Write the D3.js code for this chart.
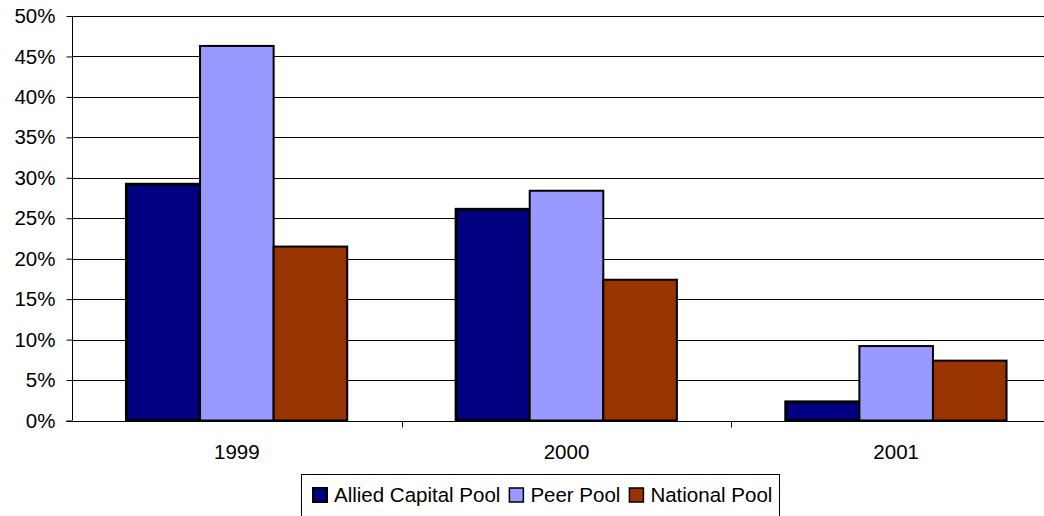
<!DOCTYPE html>
<html>
<head>
<meta charset="utf-8">
<script src="https://cdn.jsdelivr.net/npm/d3@7"></script>
<style>
  body { margin: 0; background: #fff; }
  text { font-family: "Liberation Sans", Arial, sans-serif; }
</style>
</head>
<body>
<div id="chart"></div>
<script>
// data
let years = ["1999", "2000", "2001"]
let seriesNames = ["Allied Capital Pool", "Peer Pool", "National Pool"]
let allied = [29.2, 26.1, 2.3]
let peer = [46.3, 28.4, 9.2]
let national = [21.5, 17.4, 7.4]
let yTicks = [0, 5, 10, 15, 20, 25, 30, 35, 40, 45, 50]

let colors = ["#000080", "#9999ff", "#993300"]
let strokeW = [3, 2, 2]
let fontSize = 20.5

let width = 1044, height = 516

let svg = d3.select("#chart")
    .append("svg")
    .attr("width", width)
    .attr("height", height)

let rows = years.map((y, i) => ({ year: y, vals: [allied[i], peer[i], national[i]] }))

// x: three categories, plot runs past the right edge like the original
let x = d3.scaleBand()
    .domain(years)
    .range([72, 1061])
    .paddingInner(0)
    .paddingOuter(0)

let xInner = d3.scaleBand()
    .domain(d3.range(seriesNames.length))
    .range([0, x.bandwidth()])
    .paddingOuter(0.74)
    .paddingInner(0)

let y = d3.scaleLinear()
    .domain([0, 50])
    .range([420.5, 16])

// gridlines
svg.append("g")
    .selectAll("line")
    .data(yTicks.slice(1))
    .enter()
    .append("line")
    .attr("x1", 72)
    .attr("x2", width)
    .attr("y1", d => Math.round(y(d)) + 0.5)
    .attr("y2", d => Math.round(y(d)) + 0.5)
    .attr("stroke", "#000")
    .attr("stroke-width", 1)

// bars
let groups = svg.append("g")
    .selectAll("g")
    .data(rows)
    .enter()
    .append("g")
    .attr("transform", d => "translate(" + x(d.year) + ",0)")

groups.selectAll("rect")
    .data(d => d.vals.map((v, k) => ({ v: v, k: k })))
    .enter()
    .append("rect")
    .attr("x", d => xInner(d.k))
    .attr("width", xInner.bandwidth())
    .attr("y", d => y(d.v))
    .attr("height", d => y(0) - y(d.v))
    .attr("fill", d => colors[d.k])
    .attr("stroke", "#000")
    .attr("stroke-width", d => strokeW[d.k])

// y axis
let yAxis = svg.append("g")
    .attr("transform", "translate(72.5,0)")
    .call(d3.axisLeft(y).tickValues(yTicks).tickSize(6).tickFormat(d => d + "%"))
yAxis.select(".domain").attr("stroke", "#000").attr("d", "M0," + y(0) + "V" + y(50))
yAxis.selectAll("text")
    .attr("x", -17)
    .attr("font-size", fontSize)
    .attr("fill", "#000")
    .attr("font-family", "Liberation Sans, Arial, sans-serif")
yAxis.selectAll("line").attr("stroke", "#000")

// x axis
let xAxis = svg.append("g")
    .attr("transform", "translate(0," + (Math.round(y(0)) + 0.5) + ")")
xAxis.append("line")
    .attr("x1", 66)
    .attr("x2", width)
    .attr("stroke", "#000")
xAxis.selectAll(".tk")
    .data(years.slice(1))
    .enter()
    .append("line")
    .attr("x1", d => Math.round(x(d)) + 0.5)
    .attr("x2", d => Math.round(x(d)) + 0.5)
    .attr("y1", 0)
    .attr("y2", 6)
    .attr("stroke", "#000")
xAxis.selectAll("text")
    .data(years)
    .enter()
    .append("text")
    .attr("x", d => x(d) + x.bandwidth() / 2)
    .attr("y", 37)
    .attr("text-anchor", "middle")
    .attr("font-size", fontSize)
    .text(d => d)

// legend
let legend = svg.append("g")
legend.append("rect")
    .attr("x", 301.5)
    .attr("y", 474.5)
    .attr("width", 478)
    .attr("height", 50)
    .attr("fill", "#fff")
    .attr("stroke", "#000")

let lx = 313
seriesNames.forEach((name, k) => {
    legend.append("rect")
        .attr("x", lx)
        .attr("y", 488)
        .attr("width", 14)
        .attr("height", 14)
        .attr("fill", colors[k])
        .attr("stroke", "#000")
        .attr("stroke-width", k == 0 ? 2 : 1.5)
    let t = legend.append("text")
        .attr("x", lx + 21)
        .attr("y", 502)
        .attr("font-size", fontSize)
        .text(name)
    lx = lx + 21 + t.node().getComputedTextLength() + 9
})
</script>
</body>
</html>
